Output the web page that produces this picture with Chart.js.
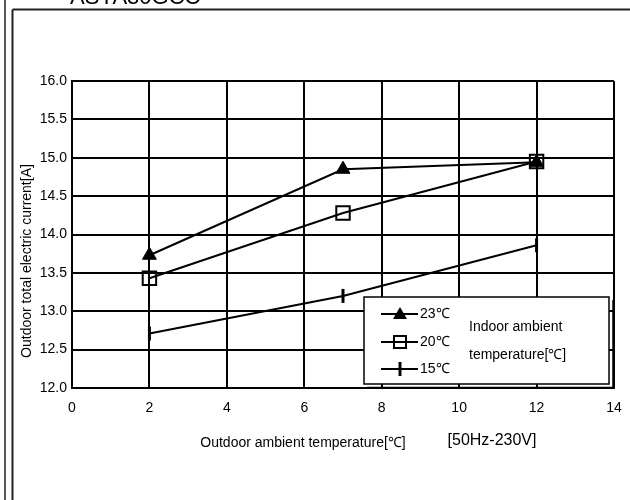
<!DOCTYPE html>
<html>
<head>
<meta charset="utf-8">
<script src="https://cdn.jsdelivr.net/npm/chart.js@4"></script>
<style>
html,body{margin:0;padding:0;background:#fff;}
#wrap{position:relative;width:630px;height:500px;}
</style>
</head>
<body>
<div id="wrap"><canvas id="c" width="630" height="500"></canvas></div>
<script>
const xValues = [2, 7, 12];
const s23 = [13.73, 14.85, 14.94];
const s20 = [13.43, 14.28, 14.95];
const s15 = [12.71, 13.20, 13.86];
const seriesLabels = ['23℃', '20℃', '15℃'];
const xTicks = [0, 2, 4, 6, 8, 10, 12, 14];
const yTicks = [12.0, 12.5, 13.0, 13.5, 14.0, 14.5, 15.0, 15.5, 16.0];
const titleText = 'ASYA30GCC';
const xTitle = 'Outdoor ambient temperature[℃]';
const yTitle = 'Outdoor total electric current[A]';
const noteText = '[50Hz-230V]';
const legendNote = ['Indoor ambient', 'temperature[℃]'];

const FONT = '"Liberation Sans", Arial, sans-serif';

function pts(ys){ return xValues.map((x,i)=>({x:x, y:ys[i]})); }

const styles = [
  {pointStyle:'triangle', radius:8, rotation:0, bg:'#000', bw:1, order:0},
  {pointStyle:'rect', radius:9.5, rotation:0, bg:'rgba(0,0,0,0)', bw:2, order:1},
  {pointStyle:'line', radius:7, rotation:90, bg:'#000', bw:3, order:2}
];
const seriesData = [s23, s20, s15];

const datasets = seriesData.map((d,i)=>({
  label: seriesLabels[i],
  data: pts(d),
  borderColor:'#000',
  borderWidth:2,
  pointStyle: styles[i].pointStyle,
  pointRadius: styles[i].radius,
  pointRotation: styles[i].rotation,
  pointBackgroundColor: styles[i].bg,
  pointBorderColor:'#000',
  pointBorderWidth: styles[i].bw,
  pointHoverRadius: styles[i].radius,
  showLine:true,
  tension:0,
  order: styles[i].order
}));

const decor = {
  id:'decor',
  beforeDraw(chart){
    const ctx = chart.ctx;
    ctx.save();
    ctx.fillStyle='#fff';
    ctx.fillRect(0,0,chart.width,chart.height);
    ctx.strokeStyle='#222';
    ctx.lineWidth=1.5;
    ctx.beginPath(); ctx.moveTo(5,0); ctx.lineTo(5,500); ctx.stroke();
    ctx.lineWidth=2;
    ctx.beginPath(); ctx.moveTo(12.5,9.5); ctx.lineTo(12.5,500); ctx.stroke();
    ctx.beginPath(); ctx.moveTo(12.5,9.5); ctx.lineTo(630,9.5); ctx.stroke();
    ctx.fillStyle='#000';
    ctx.font='22px '+FONT;
    ctx.textBaseline='alphabetic';
    ctx.textAlign='left';
    ctx.fillText(titleText, 70, 4);
    ctx.restore();
  },
  afterDraw(chart){
    const ctx = chart.ctx;
    ctx.save();
    ctx.fillStyle='#000';
    ctx.font='14px '+FONT;
    ctx.textAlign='center';
    ctx.textBaseline='middle';
    ctx.fillText(xTitle, 303, 443);
    ctx.font='16px '+FONT;
    ctx.fillText(noteText, 492, 441);
    ctx.save();
    ctx.translate(27, 261);
    ctx.rotate(-Math.PI/2);
    ctx.font='14px '+FONT;
    ctx.fillText(yTitle, 0, 0);
    ctx.restore();
    // legend
    const L=364, T=297, R=609, B=384;
    ctx.fillStyle='#fff';
    ctx.fillRect(L,T,R-L,B-T);
    ctx.strokeStyle='#000';
    ctx.lineWidth=1.5;
    ctx.strokeRect(L,T,R-L,B-T);
    ctx.beginPath();
    ctx.moveTo(613,T+3); ctx.lineTo(613,387.5); ctx.lineTo(L+3,387.5);
    ctx.stroke();
    const rows=[314,342,369];
    rows.forEach((ry,i)=>{
      ctx.strokeStyle='#000';
      ctx.lineWidth=2;
      ctx.beginPath(); ctx.moveTo(381,ry); ctx.lineTo(418,ry); ctx.stroke();
      const cx=400;
      if(i===0){
        ctx.fillStyle='#000';
        ctx.beginPath();
        ctx.moveTo(cx,ry-7); ctx.lineTo(cx+7,ry+5); ctx.lineTo(cx-7,ry+5); ctx.closePath();
        ctx.fill();
      } else if(i===1){
        ctx.lineWidth=2;
        ctx.strokeRect(cx-6,ry-6,12,12);
      } else {
        ctx.lineWidth=3;
        ctx.beginPath(); ctx.moveTo(cx,ry-7); ctx.lineTo(cx,ry+7); ctx.stroke();
      }
      ctx.fillStyle='#000';
      ctx.font='14px '+FONT;
      ctx.textAlign='left';
      ctx.textBaseline='middle';
      ctx.fillText(seriesLabels[i], 420, ry);
    });
    ctx.font='14px '+FONT;
    ctx.fillText(legendNote[0], 469, 327);
    ctx.fillText(legendNote[1], 469, 355);
    ctx.restore();
  }
};

new Chart(document.getElementById('c'), {
  type:'scatter',
  data:{datasets},
  options:{
    responsive:false,
    animation:false,
    events:[],
    layout:{padding:{left:0, top:81, right:16, bottom:0}},
    plugins:{legend:{display:false}, tooltip:{enabled:false}},
    scales:{
      x:{
        type:'linear', min:0, max:14,
        afterBuildTicks(s){ s.ticks = xTicks.map(v=>({value:v})); },
        afterFit(s){ s.height = 112; s.paddingRight = 0; },
        grid:{color:'#000', lineWidth:2, drawTicks:false},
        border:{color:'#000', width:2},
        ticks:{color:'#000', padding:12, font:{family:FONT, size:14}, callback:v=>String(v)}
      },
      y:{
        type:'linear', min:12, max:16,
        afterBuildTicks(s){ s.ticks = yTicks.map(v=>({value:v})); },
        afterFit(s){ s.width = 72; },
        grid:{color:'#000', lineWidth:2, drawTicks:false},
        border:{color:'#000', width:2},
        ticks:{color:'#000', padding:5, font:{family:FONT, size:14}, callback:v=>Number(v).toFixed(1)}
      }
    }
  },
  plugins:[decor]
});
</script>
</body>
</html>
